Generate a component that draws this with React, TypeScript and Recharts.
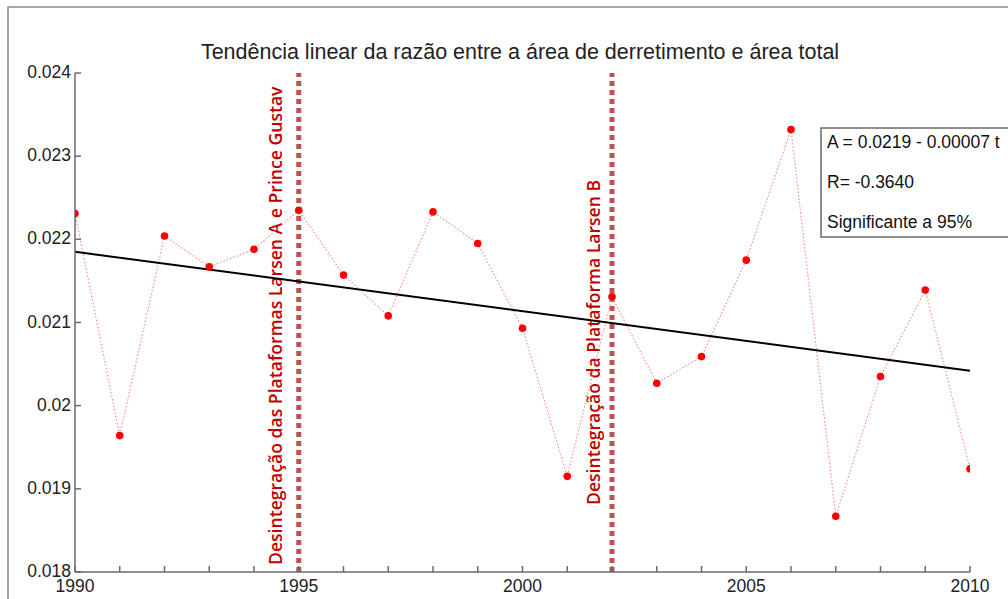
import React from 'react';
import { ComposedChart, Line, XAxis, YAxis, ReferenceLine } from 'recharts';

const years = [1990, 1991, 1992, 1993, 1994, 1995, 1996, 1997, 1998, 1999, 2000, 2001, 2002, 2003, 2004, 2005, 2006, 2007, 2008, 2009, 2010];
const ratio = [0.02231, 0.01964, 0.02204, 0.02167, 0.02188, 0.02235, 0.02157, 0.02108, 0.02233, 0.02195, 0.02093, 0.01915, 0.02131, 0.02027, 0.02059, 0.02175, 0.02332, 0.01867, 0.02035, 0.02139, 0.01924];
const trendYears = [1990, 2010];
const trendValues = [0.02185, 0.02042];

const yTicks = [0.018, 0.019, 0.02, 0.021, 0.022, 0.023, 0.024];
const yTickLabels = ['0.018', '0.019', '0.02', '0.021', '0.022', '0.023', '0.024'];
const xLabelYears = [1990, 1995, 2000, 2005, 2010];

const events = [
  { year: 1995, text: 'Desintegração das Plataformas Larsen A e Prince Gustav' },
  { year: 2002, text: 'Desintegração da Plataforma Larsen B' },
];
const eventLabelOffsets = [{ dx: -17, up: 7 }, { dx: -12, up: 67 }];

const title = 'Tendência linear da razão entre a área de derretimento e área total';
const statsLines = ['A = 0.0219 - 0.00007 t', 'R= -0.3640', 'Significante a 95%'];

const data = years.map((y, i) => {
  const ti = trendYears.indexOf(y);
  return { year: y, ratio: ratio[i], trend: ti >= 0 ? trendValues[ti] : null };
});

const AXIS = '#6a6a6a';
const FONT = '"Liberation Sans", Arial, sans-serif';

const XTick = (props: any) => {
  const { x, y, payload } = props;
  const v = payload.value;
  const show = xLabelYears.includes(v);
  return (
    <g>
      <line x1={x} x2={x} y1={y} y2={y - 6} stroke={AXIS} strokeWidth={1.5} />
      {show && (
        <text x={x} y={y + 20} textAnchor="middle" fontFamily={FONT} fontSize={17.5} fill="#222">
          {String(v)}
        </text>
      )}
    </g>
  );
};

const YTick = (props: any) => {
  const { x, y, payload } = props;
  const idx = yTicks.findIndex((t) => Math.abs(t - payload.value) < 1e-9);
  const label = idx >= 0 ? yTickLabels[idx] : String(payload.value);
  return (
    <g>
      <line x1={x} x2={x + 6} y1={y} y2={y} stroke={AXIS} strokeWidth={1.5} />
      <text x={x - 4} y={y + 5} textAnchor="end" fontFamily={FONT} fontSize={17.5} fill="#222">
        {label}
      </text>
    </g>
  );
};

const EventLabel = (props: any) => {
  const { viewBox, text, dx, up } = props;
  if (!viewBox) return null;
  const x = viewBox.x + dx;
  const y = viewBox.y + viewBox.height - up;
  return (
    <text
      transform={`translate(${x},${y}) rotate(-90)`}
      textAnchor="start"
      fontFamily='"Open Sans", sans-serif'
      fontWeight={600}
      fontSize={17.6}
      fill="#c00000"
    >
      {text}
    </text>
  );
};

export default function App() {
  return (
    <div style={{ position: 'absolute', left: 0, top: 0, width: 1008, height: 599, background: '#fff', overflow: 'hidden' }}>
      <svg width={1008} height={599} style={{ position: 'absolute', left: 0, top: 0 }}>
        <rect x={8} y={7} width={1020} height={620} fill="#fff" stroke="#8a8a8a" strokeWidth={1.5} />
        <text x={520} y={59} textAnchor="middle" fontFamily={FONT} fontSize={21.5} fill="#222">
          {title}
        </text>
      </svg>
      <div style={{ position: 'absolute', left: 0, top: 0 }}>
        <ComposedChart width={1008} height={599} data={data} margin={{ top: 73, right: 38, left: 15, bottom: 0 }}>
          <XAxis
            dataKey="year"
            type="number"
            domain={[1990, 2010]}
            ticks={years}
            interval={0}
            height={27}
            tickSize={0}
            tickMargin={0}
            tickLine={false}
            tick={<XTick />}
            stroke={AXIS}
            strokeWidth={1.5}
            allowDataOverflow
          />
          <YAxis
            type="number"
            domain={[0.018, 0.024]}
            ticks={yTicks}
            interval={0}
            width={60}
            tickSize={0}
            tickMargin={0}
            tickLine={false}
            tick={<YTick />}
            stroke={AXIS}
            strokeWidth={1.5}
            allowDataOverflow
          />
          {events.map((e, i) => (
            <ReferenceLine
              key={e.year}
              x={e.year}
              stroke="#c0504d"
              strokeWidth={5}
              strokeDasharray="5 4"
              label={<EventLabel text={e.text} dx={eventLabelOffsets[i].dx} up={eventLabelOffsets[i].up} />}
            />
          ))}
          <Line
            dataKey="ratio"
            stroke="#ff9090"
            strokeWidth={1.2}
            strokeDasharray="1.5 2"
            dot={{ r: 3.8, fill: '#ff0000', stroke: '#ff0000', strokeWidth: 0 }}
            isAnimationActive={false}
          />
          <Line
            dataKey="trend"
            stroke="#000"
            strokeWidth={2}
            dot={false}
            connectNulls
            isAnimationActive={false}
          />
        </ComposedChart>
      </div>
      <svg width={1008} height={599} style={{ position: 'absolute', left: 0, top: 0, pointerEvents: 'none' }}>
        <rect x={821} y={128} width={200} height={109} fill="#fff" stroke="#6a6a6a" strokeWidth={1.5} />
        {statsLines.map((s, i) => (
          <text key={i} x={827} y={148 + i * 40} fontFamily={FONT} fontSize={17.5} fill="#111">
            {s}
          </text>
        ))}
      </svg>
    </div>
  );
}
